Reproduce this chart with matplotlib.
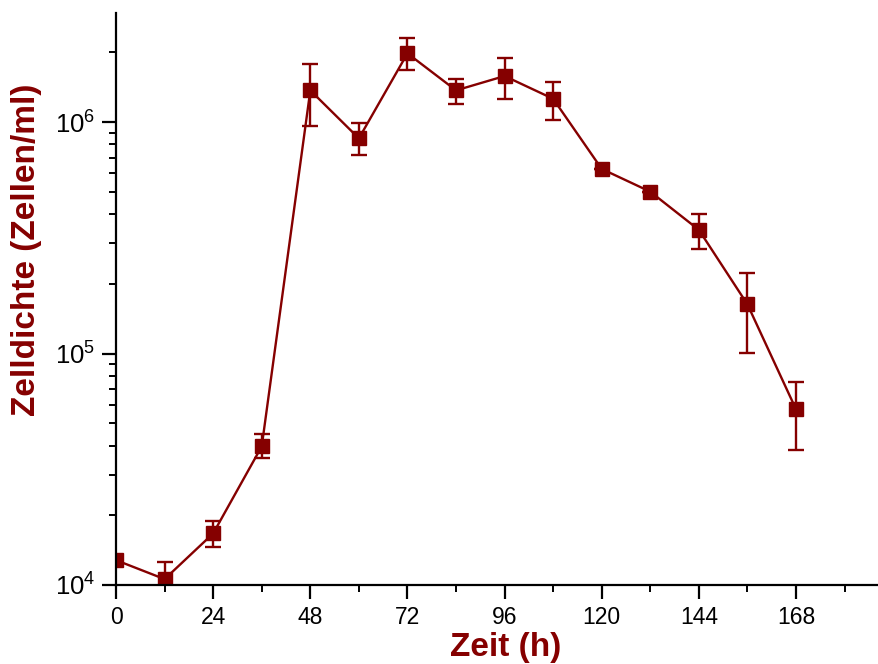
import numpy as np
import matplotlib
matplotlib.use("Agg")
import matplotlib.pyplot as plt
from matplotlib.ticker import LogLocator, MultipleLocator

plt.rcParams["font.family"] = ["Liberation Sans", "DejaVu Sans"]
plt.rcParams["mathtext.default"] = "regular"

# time points (h) and cell density (cells/ml) with asymmetric error bars
zeit = [0, 12, 24, 36, 48, 60, 72, 84, 96, 108, 120, 132, 144, 156, 168]
dichte = [1.28e4, 1.06e4, 1.67e4, 3.97e4, 1.37e6, 8.5e5, 1.98e6, 1.37e6,
          1.58e6, 1.26e6, 6.27e5, 5.0e5, 3.42e5, 1.63e5, 5.74e4]
err_oben = [1.28e4, 1.26e4, 1.89e4, 4.48e4, 1.78e6, 9.9e5, 2.30e6, 1.53e6,
            1.89e6, 1.49e6, 6.27e5, 5.0e5, 4.01e5, 2.23e5, 7.5e4]
err_unten = [1.28e4, 0.90e4, 1.46e4, 3.53e4, 9.6e5, 7.2e5, 1.68e6, 1.20e6,
             1.26e6, 1.02e6, 6.27e5, 5.0e5, 2.84e5, 1.01e5, 3.82e4]

farbe = "#850000"

dichte = np.array(dichte)
yerr = [dichte - np.array(err_unten), np.array(err_oben) - dichte]

fig = plt.figure(figsize=(8.79, 6.64), dpi=100)
ax = fig.add_axes([0.132, 0.119, 0.868, 0.861])

ax.errorbar(zeit, dichte, yerr=yerr, color=farbe, marker="s", markersize=10,
            linewidth=1.7, elinewidth=1.7, capsize=6, capthick=1.7,
            zorder=3)

ax.set_yscale("log")
ax.set_xlim(0, 188.5)
ax.set_ylim(1e4, 2.95e6)
ax.xaxis.set_major_locator(MultipleLocator(24))
ax.xaxis.set_minor_locator(MultipleLocator(12))
ax.yaxis.set_major_locator(LogLocator(base=10))
ax.yaxis.set_minor_locator(LogLocator(base=10, subs=np.arange(2, 10)))

for s in ["top", "right"]:
    ax.spines[s].set_visible(False)
for s in ["left", "bottom"]:
    ax.spines[s].set_linewidth(1.6)
    ax.spines[s].set_zorder(4)

ax.tick_params(which="major", direction="out", length=10, width=1.6, pad=5)
ax.tick_params(axis="x", which="major", labelsize=16.5)
ax.tick_params(axis="y", which="major", labelsize=18.5, pad=5)
ax.tick_params(which="minor", direction="out", length=5, width=1.4)

ax.set_xlabel("Zeit (h)", fontsize=24, fontweight="bold", color=farbe)
ax.set_ylabel("Zelldichte (Zellen/ml)", fontsize=24, fontweight="bold",
              color=farbe)
ax.xaxis.set_label_coords(0.51, -0.083)
ax.yaxis.set_label_coords(-0.097, 0.587)

fig.savefig("out.png", dpi=100)
